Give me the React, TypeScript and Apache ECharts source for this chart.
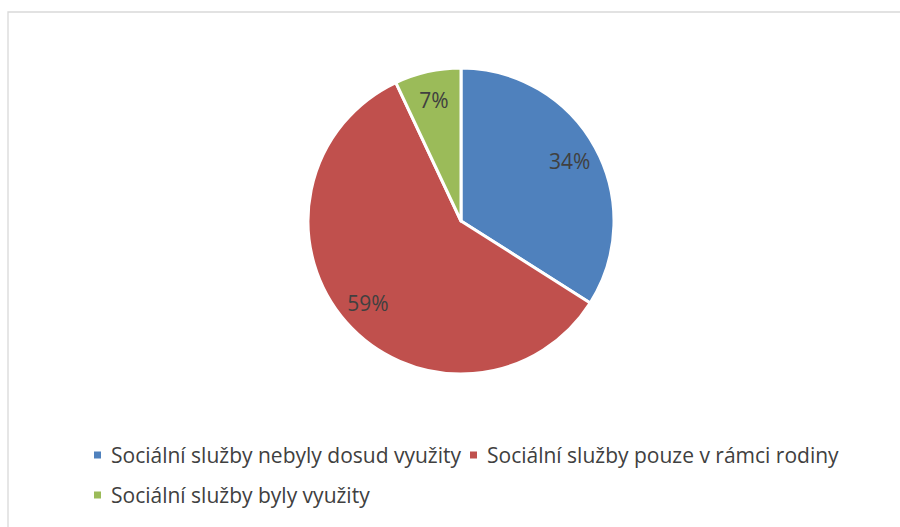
import React, { useEffect, useRef } from "react";
import * as echarts from "echarts";

const categories = [
  "Sociální služby nebyly dosud využity",
  "Sociální služby pouze v rámci rodiny",
  "Sociální služby byly využity",
];
const values = [34, 59, 7];
const colors = ["#4F81BD", "#C0504D", "#9BBB59"];

const FONT = "Open Sans";

export default function App() {
  const ref = useRef<HTMLDivElement>(null);
  useEffect(() => {
    if (!ref.current) return;
    const chart = echarts.init(ref.current, undefined, { renderer: "svg" });
    const data = categories.map((name, i) => ({
      name,
      value: values[i],
      itemStyle: { color: colors[i] },
    }));
    const legendText = {
      fontFamily: FONT,
      fontSize: 21,
      color: "#404040",
      lineHeight: 24,
      padding: [0, 0, 0, 5],
    };
    const legendBase = {
      left: 94,
      orient: "horizontal",
      padding: 0,
      itemWidth: 7,
      itemHeight: 7,
      itemGap: 9,
      icon: "rect",
      itemStyle: { borderWidth: 0 },
      textStyle: legendText,
    };
    chart.setOption({
      animation: false,
      backgroundColor: "#ffffff",
      graphic: [
        {
          type: "rect",
          shape: { x: 8, y: 12, width: 1000, height: 600 },
          style: { fill: "none", stroke: "#D9D9D9", lineWidth: 1.3 },
          silent: true,
          z: -1,
        },
      ],
      legend: [
        { ...legendBase, data: [categories[0], categories[1]], top: 443 },
        { ...legendBase, data: [categories[2]], top: 483 },
      ],
      series: [
        {
          type: "pie",
          center: [461, 221],
          radius: [0, 153],
          startAngle: 90,
          clockwise: true,
          label: { show: false },
          labelLine: { show: false },
          itemStyle: { borderColor: "#ffffff", borderWidth: 3 },
          emphasis: { disabled: true },
          data,
        },
        {
          type: "pie",
          center: [461, 221],
          radius: [89, 153],
          startAngle: 90,
          clockwise: true,
          silent: true,
          itemStyle: { color: "rgba(0,0,0,0)" },
          emphasis: { disabled: true },
          label: {
            show: true,
            position: "inside",
            formatter: "{c}%",
            fontFamily: FONT,
            fontSize: 21,
            color: "#404040",
          },
          labelLine: { show: false },
          data: categories.map((name, i) => ({
            name,
            value: values[i],
            itemStyle: { color: "rgba(0,0,0,0)" },
          })),
        },
      ],
    });
    return () => chart.dispose();
  }, []);
  return (
    <div
      ref={ref}
      style={{ position: "absolute", left: 0, top: 0, width: 900, height: 527 }}
    />
  );
}
